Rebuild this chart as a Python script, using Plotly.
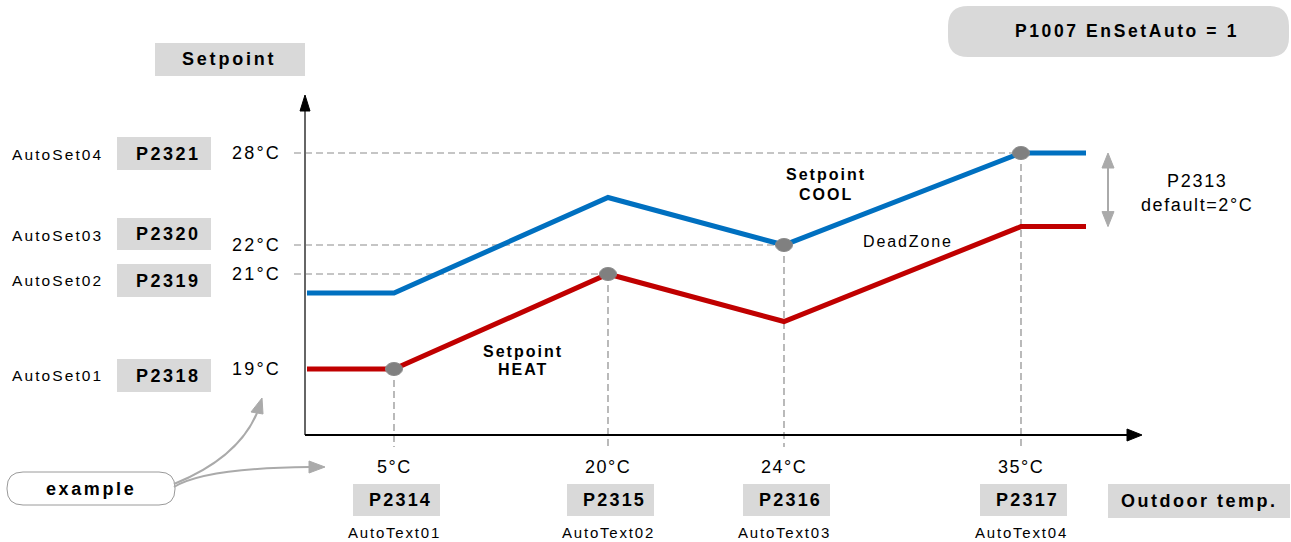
import numpy as np
import plotly.graph_objects as go

# Outdoor temperature breakpoints (°C) and the two setpoint curves
outdoor_temp = [0, 5, 20, 24, 35, 38]
heat_setpoint = [19, 19, 21, 20, 23.2, 23.2]
cool_setpoint = [20.6, 20.6, 25.1, 22, 28, 28]

# Parameterised breakpoints on the outdoor axis
outdoor_ticks = [5, 20, 24, 35]
outdoor_tick_text = ["5°C", "20°C", "24°C", "35°C"]
outdoor_params = ["P2314", "P2315", "P2316", "P2317"]
outdoor_names = ["AutoText01", "AutoText02", "AutoText03", "AutoText04"]

# Parameterised setpoint levels
setpoint_ticks = [19, 21, 22, 28]
setpoint_tick_text = ["19°C", "21°C", "22°C", "28°C"]
setpoint_params = ["P2318", "P2319", "P2320", "P2321"]
setpoint_names = ["AutoSet01", "AutoSet02", "AutoSet03", "AutoSet04"]

# Control points (outdoor temp, setpoint) where the two scales meet
point_outdoor = [5, 20, 24, 35]
point_setpoint = [19, 21, 22, 28]

# The diagram is schematic: each axis is a piecewise-linear scale through its knots
X_KNOTS = ([0, 5, 20, 24, 35, 38], [307, 394, 608, 784, 1021, 1086])
Y_KNOTS = ([19, 21, 22, 28], [369, 274, 245, 153])


def sx(t):
    return np.interp(t, *X_KNOTS)


def sy(t):
    return np.interp(t, *Y_KNOTS)


W, H = 1291, 542
FONT = "Liberation Sans, Arial, sans-serif"
BOX = "#d9d9d9"
GRID = "#8c8c8c"

fig = go.Figure()
shapes = []
annotations = []


def label(x, y, s, size, bold=False, spacing=0.0, xanchor="center", color="#000"):
    txt = f'<span style="letter-spacing:{spacing}px">{s}</span>'
    if bold:
        txt = f"<b>{txt}</b>"
    annotations.append(dict(x=x, y=y, xref="x", yref="y", text=txt, showarrow=False,
                            xanchor=xanchor, yanchor="middle",
                            font=dict(family=FONT, size=size, color=color)))


def rect(x0, y0, x1, y1, fill=BOX):
    shapes.append(dict(type="rect", xref="x", yref="y", x0=x0, y0=y0, x1=x1, y1=y1,
                       fillcolor=fill, line=dict(width=0), layer="below"))


def rounded(x0, y0, x1, y1, r, fill, line_color=None, line_width=0):
    p = (f"M {x0 + r},{y0} L {x1 - r},{y0} Q {x1},{y0} {x1},{y0 + r} "
         f"L {x1},{y1 - r} Q {x1},{y1} {x1 - r},{y1} L {x0 + r},{y1} "
         f"Q {x0},{y1} {x0},{y1 - r} L {x0},{y0 + r} Q {x0},{y0} {x0 + r},{y0} Z")
    shapes.append(dict(type="path", xref="x", yref="y", path=p, fillcolor=fill,
                       line=dict(color=line_color or fill, width=line_width), layer="below"))


def tri(points, color):
    p = "M " + " L ".join(f"{a},{b}" for a, b in points) + " Z"
    shapes.append(dict(type="path", xref="x", yref="y", path=p, fillcolor=color,
                       line=dict(color=color, width=1), layer="above"))


def seg(x0, y0, x1, y1, color, width=1, dash="solid", layer="below"):
    shapes.append(dict(type="line", xref="x", yref="y", x0=x0, y0=y0, x1=x1, y1=y1,
                       line=dict(color=color, width=width, dash=dash), layer=layer))


# --- axes with arrowheads ---
ox, oy = 305, 435
seg(ox, oy, ox, 110, "#666666", 2, layer="above")
tri([(ox - 5, 111), (ox + 5, 111), (ox, 95)], "#000")
seg(ox, oy, 1128, oy, "#000", 2, layer="above")
tri([(1127, oy - 6), (1127, oy + 6), (1142, oy)], "#000")

# --- dashed guides from the control points ---
for t_out, t_set in zip(point_outdoor, point_setpoint):
    px, py = float(sx(t_out)), float(sy(t_set))
    seg(px, py, px, 447, GRID, 1.2, "7px,4px")
    if t_set != setpoint_ticks[0]:
        seg(294, py, px, py, GRID, 1.2, "7px,4px")

# --- setpoint curves ---
fig.add_trace(go.Scatter(x=sx(outdoor_temp), y=sy(heat_setpoint), mode="lines",
                         line=dict(color="#c00000", width=5), hoverinfo="skip"))
fig.add_trace(go.Scatter(x=sx(outdoor_temp), y=sy(cool_setpoint), mode="lines",
                         line=dict(color="#0070c0", width=5), hoverinfo="skip"))

# control point markers (flattened ellipses)
for t_out, t_set in zip(point_outdoor, point_setpoint):
    px, py = float(sx(t_out)), float(sy(t_set))
    shapes.append(dict(type="circle", xref="x", yref="y", x0=px - 8.5, x1=px + 8.5,
                       y0=py - 6.5, y1=py + 6.5, fillcolor="#808080",
                       line=dict(color="#8a8a8a", width=1), layer="above"))

# --- setpoint scale labels ---
box_rows = {19: (359, 392), 21: (264, 297), 22: (218, 250), 28: (137, 170)}
name_rows = {19: 375, 21: 280, 22: 235, 28: 154}
for t, txt, par, nm in zip(setpoint_ticks, setpoint_tick_text, setpoint_params, setpoint_names):
    y0, y1 = box_rows[t]
    rect(117, y0, 211, y1)
    label(203, (y0 + y1) / 2, par, 18, bold=True, spacing=2.5, xanchor="right")
    label(10, name_rows[t], nm, 15.5, spacing=2.1, xanchor="left")
    label(256, float(sy(t)), txt, 18, spacing=2.2)

rect(155, 43, 305, 76)
label(229, 59, "Setpoint", 18, bold=True, spacing=2.8)

# --- outdoor scale labels ---
for t, txt, par, nm in zip(outdoor_ticks, outdoor_tick_text, outdoor_params, outdoor_names):
    px = float(sx(t))
    label(px, 467, txt, 18, spacing=1.5)
    rect(px - 41, 484, px + 46, 516)
    label(px + 40, 500, par, 18, bold=True, spacing=2.2, xanchor="right")
    label(px, 532, nm, 15, spacing=1.8)

rect(1108, 484, 1290, 518)
label(1199, 501, "Outdoor temp.", 18, bold=True, spacing=2.5)

# --- header ---
rounded(948, 6, 1289, 57, 20, BOX)
label(1127, 31, "P1007 EnSetAuto = 1", 17.5, bold=True, spacing=2.6)

# --- curve captions ---
label(826, 174, "Setpoint", 16, bold=True, spacing=2)
label(826, 194, "COOL", 16, bold=True, spacing=2)
label(523, 351, "Setpoint", 16, bold=True, spacing=2)
label(523, 369, "HEAT", 16, bold=True, spacing=2)
label(908, 241, "DeadZone", 16, spacing=1.9)

# --- dead-zone (P2313) indicator ---
dz_x, dz_top, dz_bot = 1108, float(sy(cool_setpoint[-1])), float(sy(heat_setpoint[-1]))
seg(dz_x, dz_top + 14, dz_x, dz_bot - 14, "#aaaaaa", 2)
tri([(dz_x - 6, dz_top + 15), (dz_x + 6, dz_top + 15), (dz_x, dz_top)], "#aaaaaa")
tri([(dz_x - 6, dz_bot - 15), (dz_x + 6, dz_bot - 15), (dz_x, dz_bot)], "#aaaaaa")
label(1197, 181, "P2313", 18, spacing=1.7)
label(1197, 205, "default=2°C", 18, spacing=1.6)

# --- "example" callout ---
rounded(7, 472, 175, 505, 16, "#ffffff", "#9a9a9a", 1)
label(91, 489, "example", 18, bold=True, spacing=2.6)
shapes.append(dict(type="path", xref="x", yref="y", path="M 174,484 Q 238,458 257,413",
                   line=dict(color="#aaaaaa", width=2), layer="above"))
tri([(251, 412), (263, 414), (262, 398)], "#aaaaaa")
shapes.append(dict(type="path", xref="x", yref="y", path="M 174,487 Q 205,468 310,467",
                   line=dict(color="#aaaaaa", width=2), layer="above"))
tri([(309, 461), (309, 473), (325, 467)], "#aaaaaa")

fig.update_layout(
    width=W, height=H, margin=dict(l=0, r=0, t=0, b=0),
    paper_bgcolor="#ffffff", plot_bgcolor="#ffffff", showlegend=False,
    xaxis=dict(range=[0, W], visible=False, fixedrange=True),
    yaxis=dict(range=[H, 0], visible=False, fixedrange=True),
    shapes=shapes, annotations=annotations,
)

fig.write_html("out.html", config={"displayModeBar": False})
